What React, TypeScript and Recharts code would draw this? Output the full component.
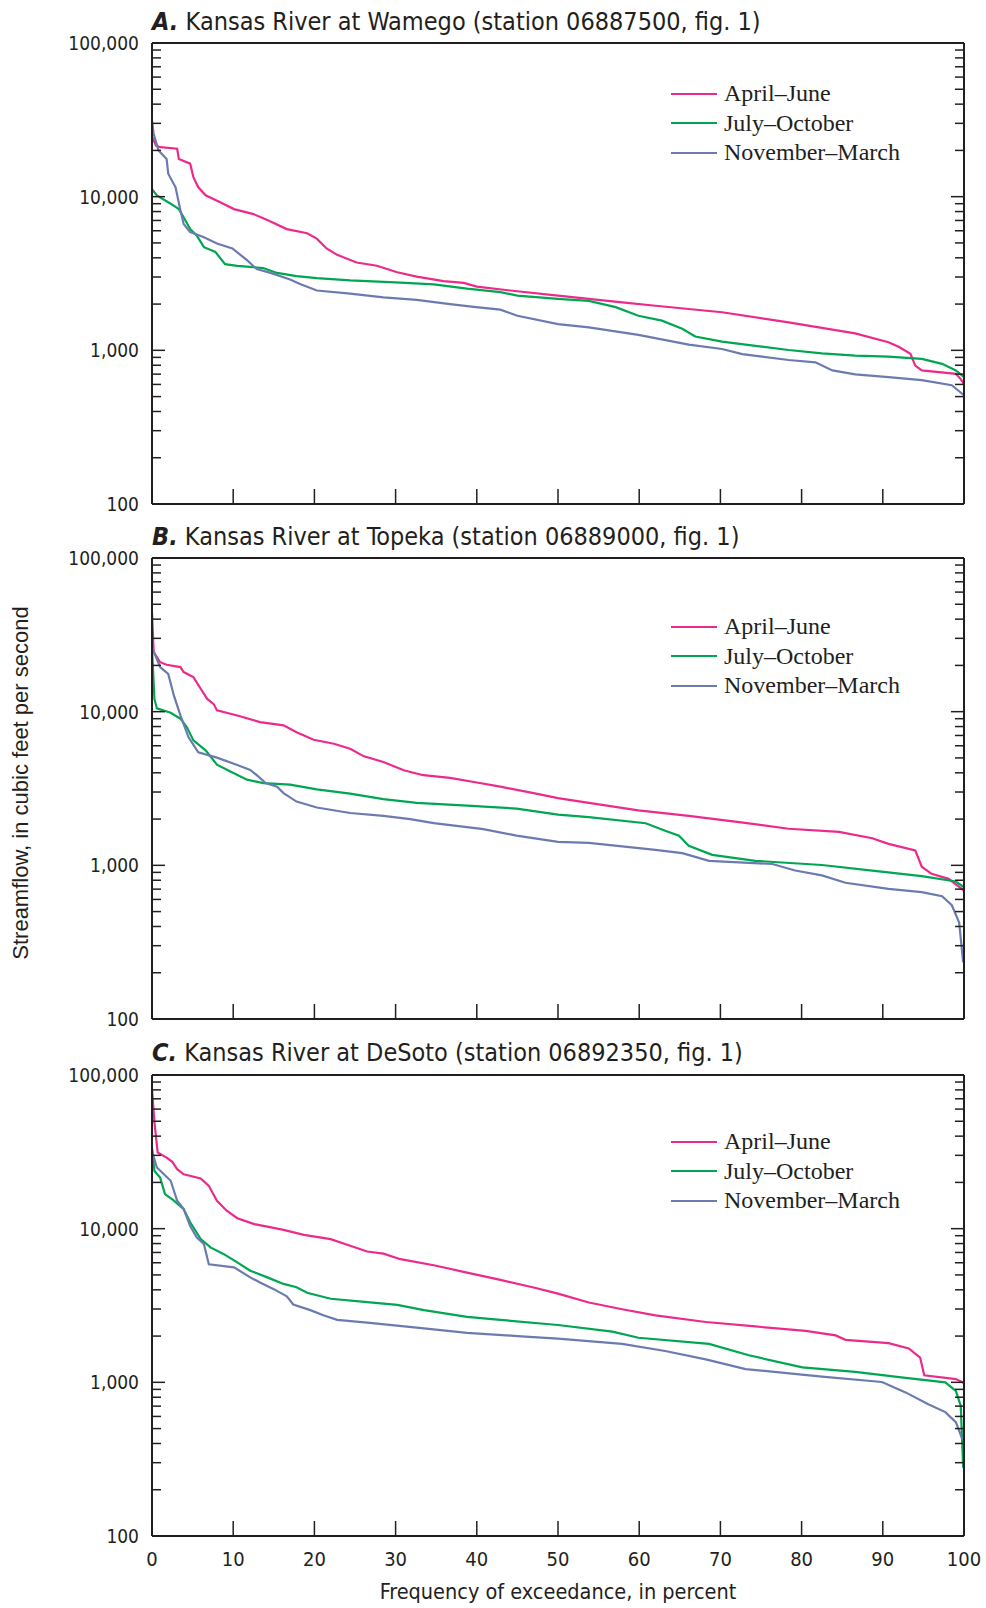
import { LineChart, Line, XAxis, YAxis, Legend } from 'recharts';

// flow-duration points: [percent exceedance, streamflow ft3/s]
const aprJunA = [[0,24500],[0.5,21500],[1,21000],[3.1,20500],[3.3,17600],[4.7,16400],[5.1,13400],[5.7,11500],[6.6,10200],[8.4,9200],[10.1,8300],[12.5,7700],[14.2,7050],[16.6,6150],[19.1,5780],[20.3,5330],[21.5,4600],[22.8,4180],[25.2,3730],[27.7,3550],[30.2,3220],[32.6,3020],[35.9,2820],[38.4,2750],[40,2600],[44.1,2450],[50,2270],[57.9,2050],[62,1950],[70.2,1770],[78.4,1520],[82.5,1400],[86.6,1290],[90.7,1130],[92,1050],[93.4,950],[94,795],[94.8,740],[99,703],[99.6,650],[100,605]];
const julOctA = [[0,11200],[0.6,10200],[2.3,9000],[3.3,8300],[3.9,7350],[4.7,6150],[5.5,5600],[6.4,4690],[7.8,4370],[9,3640],[10.5,3550],[13.7,3430],[15.4,3190],[17.8,3040],[20.3,2950],[24.4,2850],[30.6,2760],[34.7,2690],[38.8,2520],[42.9,2390],[45,2270],[50,2160],[53.8,2100],[57.1,1910],[59.9,1680],[62.8,1560],[65.3,1380],[66.9,1230],[70.2,1140],[74.3,1070],[78.4,1005],[82.5,955],[86.6,925],[90.7,910],[94.8,880],[97.3,817],[99,740],[100,670]];
const novMarA = [[0,31300],[0.2,25600],[0.8,20000],[1.8,17600],[2,14100],[2.9,11500],[3.5,8150],[3.9,6650],[4.7,5880],[6.4,5440],[8,4950],[9.9,4600],[11.7,3860],[12.9,3380],[14.6,3190],[17,2890],[18.3,2690],[20.3,2450],[24.4,2340],[28.5,2210],[32.6,2130],[36.7,2000],[39.9,1910],[42.9,1840],[45,1680],[50,1480],[53.8,1410],[59.9,1260],[66.1,1090],[70.2,1020],[72.7,945],[78.4,865],[81.7,835],[83.8,740],[86.6,697],[90.7,670],[94.8,640],[98.5,593],[100,510]];

const aprJunB = [[0,44400],[0.2,24400],[1,21000],[1.8,20200],[3.5,19500],[3.9,18100],[5.1,16800],[6,14100],[6.8,12100],[7.6,11200],[8,10200],[10.5,9450],[13.3,8550],[16.2,8150],[17.8,7350],[19.9,6560],[22.4,6180],[24.4,5740],[26.1,5120],[28.5,4700],[31,4160],[33.4,3860],[36.7,3710],[40,3460],[42.9,3250],[47,2950],[50,2740],[53.8,2550],[59.9,2280],[66.1,2100],[72.3,1910],[78.4,1730],[84.6,1650],[88.7,1500],[90.7,1380],[94,1250],[94.8,980],[96,880],[98.1,817],[100,685]];
const julOctB = [[0,25600],[0.3,12100],[0.6,10500],[2.3,9830],[3.5,9000],[4.3,7920],[5.1,6500],[6.6,5600],[8,4520],[9.6,4100],[11.7,3610],[13.7,3430],[17,3350],[20.3,3120],[24.4,2930],[28.5,2700],[32.6,2550],[38.8,2450],[44.9,2340],[50,2140],[53.8,2060],[60.8,1880],[63.2,1680],[64.9,1560],[66.1,1340],[69,1170],[74.3,1070],[82.5,1005],[88.7,925],[94.8,850],[99,785],[100,720]];
const novMarB = [[0,26300],[1,19500],[2,17600],[2.7,12700],[3.5,9450],[4.5,6810],[5.7,5440],[8,5020],[10.5,4500],[12.1,4180],[12.9,3860],[14,3430],[15.4,3250],[16.2,2950],[17.8,2600],[20.3,2380],[24.4,2190],[28.5,2100],[31.8,2000],[34.7,1880],[40.8,1720],[44.9,1560],[50,1420],[53.8,1400],[62,1260],[65.3,1200],[68.6,1070],[76.4,1020],[79.2,925],[82.5,860],[85.4,770],[90.7,703],[94.8,670],[97.3,630],[98.5,550],[99.4,425],[99.9,234]];

const aprJunC = [[0,81000],[0.3,49200],[0.7,31300],[1.8,29000],[2.5,27200],[3.1,24400],[3.9,22600],[6,21200],[7,19000],[8,15200],[9.2,13100],[10.5,11700],[12.6,10700],[14.2,10300],[16.2,9830],[18.7,9120],[22,8550],[24.4,7750],[26.5,7100],[28.5,6880],[30.6,6330],[34.7,5780],[38.8,5180],[42.9,4640],[47,4140],[50,3780],[53.8,3310],[57.9,2990],[62,2730],[68.2,2470],[74.3,2310],[80.5,2160],[84.2,2020],[85.4,1890],[90.7,1800],[93.2,1660],[94.6,1450],[95.1,1110],[99,1050],[100,990]];
const julOctC = [[0,33700],[0.3,23700],[1,21500],[1.6,16800],[2.7,15200],[3.9,13400],[4.7,11000],[6,8550],[7.2,7550],[8.8,6850],[10.5,6030],[12.1,5330],[14.2,4820],[16.2,4370],[17.8,4160],[19.1,3830],[22,3500],[26.5,3330],[30.2,3190],[33.5,2950],[38.8,2670],[42.9,2550],[50,2360],[56.7,2140],[59.9,1950],[68.6,1780],[73.5,1500],[80.1,1250],[86.6,1170],[92.8,1070],[97.7,1000],[99,880],[99.6,703],[99.9,278]];
const novMarC = [[0,32000],[0.6,25000],[2.3,20500],[3.1,15200],[3.9,13400],[4.7,10400],[5.5,8790],[6.4,7920],[7,5870],[10.1,5600],[12.1,4820],[13.3,4460],[15,4040],[16.6,3630],[17.4,3210],[19.5,2950],[21.1,2730],[22.8,2550],[26.5,2450],[32.6,2270],[38.8,2100],[45,2000],[50,1925],[57.9,1780],[63.2,1600],[68.2,1410],[73.1,1220],[82.5,1090],[89.9,1005],[92.8,860],[95.6,720],[97.7,640],[99,550],[99.8,425]];

const seasonNames = ['April\u2013June', 'July\u2013October', 'November\u2013March'];
const seasonColors = ['#ec2a8c', '#00a651', '#6b7bb0'];
const xTicks = [0, 10, 20, 30, 40, 50, 60, 70, 80, 90, 100];
const yTicks = [100, 200, 300, 400, 500, 600, 700, 800, 900, 1000, 2000, 3000, 4000, 5000, 6000, 7000, 8000, 9000, 10000, 20000, 30000, 40000, 50000, 60000, 70000, 80000, 90000, 100000];

const INK = '#231f20';
const COND = "'DejaVu Sans Condensed', 'Liberation Sans Narrow', sans-serif";

const panels = [
  { letter: 'A.', title: 'Kansas River at Wamego (station 06887500, fig. 1)', top: 0, titleTop: 8.5, series: [aprJunA, julOctA, novMarA], legendTop: 79, labels: false },
  { letter: 'B.', title: 'Kansas River at Topeka (station 06889000, fig. 1)', top: 515, titleTop: 8.5, series: [aprJunB, julOctB, novMarB], legendTop: 97, labels: false },
  { letter: 'C.', title: 'Kansas River at DeSoto (station 06892350, fig. 1)', top: 1032, titleTop: 7.5, series: [aprJunC, julOctC, novMarC], legendTop: 95, labels: true },
];

const isMajor = (v: number) => Math.abs(Math.log10(v) - Math.round(Math.log10(v))) < 1e-9;

const LeftTick = ({ x, y, payload }: any) => {
  const major = isMajor(payload.value);
  return (
    <g>
      <line x1={x} x2={x + (major ? 13 : 9)} y1={y} y2={y} stroke={INK} strokeWidth={1.5} />
      {major && (
        <text x={x - 13} y={y + 7} textAnchor="end" fontFamily={COND} fontSize={19} fill={INK}>
          {payload.value.toLocaleString('en-US')}
        </text>
      )}
    </g>
  );
};

const RightTick = ({ x, y, payload }: any) => {
  const major = isMajor(payload.value);
  return <line x1={x} x2={x - (major ? 13 : 9)} y1={y} y2={y} stroke={INK} strokeWidth={1.5} />;
};

const TopTick = ({ x, y }: any) => <line x1={x} x2={x} y1={y} y2={y + 15} stroke={INK} strokeWidth={1.5} />;

const makeBottomTick = (labels: boolean) => ({ x, y, payload }: any) => (
  <g>
    <line x1={x} x2={x} y1={y} y2={y - 15} stroke={INK} strokeWidth={1.5} />
    {labels && (
      <text x={x} y={y + 30} textAnchor="middle" fontFamily={COND} fontSize={20} fill={INK}>
        {payload.value}
      </text>
    )}
  </g>
);

const renderLegend = ({ payload }: any) => (
  <div style={{ fontFamily: "'Liberation Serif', 'Times New Roman', serif", fontSize: 24, color: INK }}>
    {(payload || []).map((e: any) => (
      <div key={e.value} style={{ display: 'flex', alignItems: 'center', height: 29.5, whiteSpace: 'nowrap' }}>
        <svg width={46} height={4} style={{ display: 'block' }}>
          <line x1={0} x2={46} y1={2} y2={2} stroke={e.color} strokeWidth={2} />
        </svg>
        <span style={{ marginLeft: 7 }}>{e.value}</span>
      </div>
    ))}
  </div>
);

function Panel({ p }: { p: (typeof panels)[number] }) {
  const height = p.labels ? 576 : 520;
  const axisLine = { stroke: INK, strokeWidth: 2 };
  return (
    <div style={{ position: 'absolute', left: 0, top: p.top, width: 986, height }}>
      <div style={{ position: 'absolute', left: 152, top: p.titleTop, fontFamily: COND, fontSize: 25, lineHeight: '25px', color: INK, whiteSpace: 'nowrap' }}>
        <b><i>{p.letter}</i></b> {p.title}
      </div>
      <LineChart width={986} height={height} margin={{ top: 42, right: 21, bottom: p.labels ? 32 : 15, left: 82 }}>
        <XAxis dataKey="p" type="number" domain={[0, 100]} ticks={xTicks} interval={0} tickSize={0} tickMargin={0} tickLine={false} axisLine={axisLine} height={p.labels ? 40 : 1} tick={makeBottomTick(p.labels)} />
        <XAxis xAxisId="t" orientation="top" dataKey="p" type="number" domain={[0, 100]} ticks={xTicks} interval={0} tickSize={0} tickMargin={0} tickLine={false} axisLine={axisLine} height={1} tick={<TopTick />} />
        <YAxis scale="log" type="number" domain={[100, 100000]} ticks={yTicks} interval={0} tickSize={0} tickMargin={0} tickLine={false} axisLine={axisLine} width={70} tick={<LeftTick />} allowDataOverflow />
        <YAxis yAxisId="r" orientation="right" scale="log" type="number" domain={[100, 100000]} ticks={yTicks} interval={0} tickSize={0} tickMargin={0} tickLine={false} axisLine={axisLine} width={1} tick={<RightTick />} allowDataOverflow />
        <Legend layout="vertical" align="center" verticalAlign="middle" wrapperStyle={{ left: 671, top: p.legendTop, width: 270 }} content={renderLegend} />
        {p.series.map((s, i) => (
          <Line
            key={seasonNames[i]}
            name={seasonNames[i]}
            data={s.map(([pct, v]) => ({ p: pct, v }))}
            dataKey="v"
            type="linear"
            stroke={seasonColors[i]}
            strokeWidth={2.2}
            dot={false}
            activeDot={false}
            isAnimationActive={false}
          />
        ))}
      </LineChart>
    </div>
  );
}

export default function App() {
  return (
    <div style={{ position: 'absolute', left: 0, top: 0, width: 986, height: 1608, background: '#fff' }}>
      {panels.map((p) => (
        <Panel key={p.letter} p={p} />
      ))}
      <div style={{ position: 'absolute', left: 21, top: 783, transform: 'translate(-50%, -50%) rotate(-90deg)', fontFamily: "'Liberation Sans', Arial, sans-serif", fontSize: 22, color: INK, whiteSpace: 'nowrap' }}>
        Streamflow, in cubic feet per second
      </div>
      <div style={{ position: 'absolute', left: 558, top: 1581, transform: 'translateX(-50%)', fontFamily: COND, fontSize: 21.5, lineHeight: '21.5px', color: INK, whiteSpace: 'nowrap' }}>
        Frequency of exceedance, in percent
      </div>
    </div>
  );
}
